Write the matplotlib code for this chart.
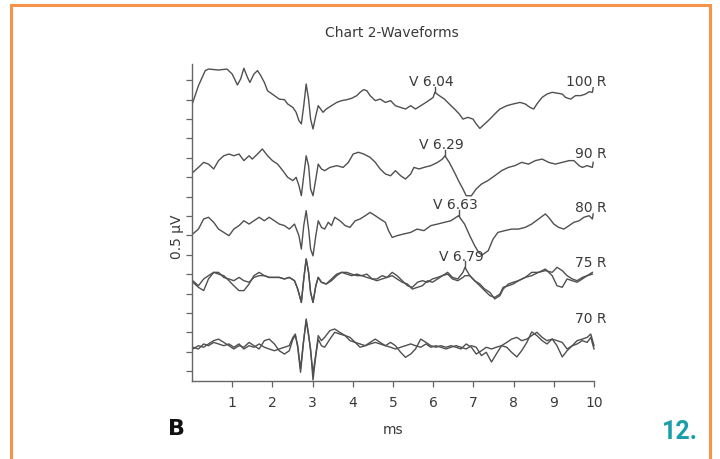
import matplotlib
matplotlib.use('Agg')
import matplotlib.pyplot as plt
from matplotlib.patches import Rectangle

# --- data (time in ms, amplitude in axis divisions) ---
t_100 = [0.02, 0.16, 0.33, 0.41, 0.66, 0.87, 1.00, 1.13, 1.21, 1.29,
         1.38, 1.44, 1.54, 1.63, 1.71, 1.80, 1.88, 2.05, 2.17, 2.30,
         2.38, 2.51, 2.59, 2.66, 2.72, 2.78, 2.84, 2.90, 2.95, 3.01,
         3.08, 3.14, 3.20, 3.26, 3.34, 3.47, 3.60, 3.72, 3.85, 3.97,
         4.10, 4.18, 4.27, 4.35, 4.43, 4.56, 4.68, 4.81, 4.94, 5.06,
         5.19, 5.31, 5.44, 5.56, 5.69, 5.82, 5.94, 6.00, 6.04, 6.15,
         6.28, 6.40, 6.53, 6.65, 6.74, 6.86, 6.99, 7.07, 7.16, 7.28,
         7.41, 7.53, 7.66, 7.83, 7.99, 8.16, 8.29, 8.41, 8.50, 8.58,
         8.71, 8.83, 8.96, 9.08, 9.21, 9.29, 9.42, 9.54, 9.67, 9.79,
         9.88, 9.96, 9.98]
v_100 = [14.36, 15.22, 16.0, 16.08, 16.03, 16.08, 15.82, 15.26, 15.57, 16.12,
         15.65, 15.39, 15.82, 16.0, 15.74, 15.39, 14.96, 14.71, 14.53, 14.5,
         14.28, 14.1, 13.85, 13.42, 13.25, 14.19, 15.31, 14.53, 13.5, 12.99,
         13.68, 14.19, 14.02, 13.85, 14.02, 14.19, 14.36, 14.45, 14.5, 14.57,
         14.71, 14.88, 15.02, 14.96, 14.71, 14.45, 14.53, 14.36, 14.45, 14.19,
         14.1, 14.02, 14.19, 14.02, 14.19, 14.36, 14.53, 14.62, 14.88, 14.71,
         14.53, 14.28, 14.02, 13.76, 13.5, 13.59, 13.5, 13.25, 13.02, 13.25,
         13.5, 13.76, 14.02, 14.19, 14.28, 14.36, 14.28, 14.1, 14.02, 14.28,
         14.62, 14.79, 14.88, 14.84, 14.79, 14.62, 14.53, 14.71, 14.71, 14.79,
         14.91, 14.88, 15.12]

t_90 = [0.02, 0.16, 0.29, 0.41, 0.54, 0.66, 0.79, 0.92, 1.04, 1.17,
        1.29, 1.42, 1.50, 1.63, 1.75, 1.88, 2.00, 2.13, 2.26, 2.38,
        2.51, 2.59, 2.66, 2.72, 2.78, 2.84, 2.90, 2.95, 3.01, 3.08,
        3.14, 3.22, 3.30, 3.43, 3.60, 3.76, 3.89, 4.01, 4.14, 4.27,
        4.43, 4.56, 4.68, 4.81, 4.94, 5.06, 5.19, 5.31, 5.44, 5.52,
        5.65, 5.77, 5.94, 6.11, 6.23, 6.29, 6.40, 6.53, 6.65, 6.74,
        6.82, 6.95, 7.07, 7.20, 7.36, 7.53, 7.70, 7.87, 8.03, 8.20,
        8.37, 8.54, 8.71, 8.87, 9.04, 9.21, 9.38, 9.50, 9.63, 9.71,
        9.83, 9.96, 9.98]
v_90 = [10.75, 11.01, 11.27, 11.18, 10.93, 11.36, 11.61, 11.7, 11.61, 11.7,
        11.36, 11.61, 11.44, 11.7, 11.96, 11.61, 11.36, 11.18, 10.84, 10.5,
        10.33, 10.5, 10.07, 9.55, 10.58, 11.61, 11.1, 9.9, 9.55, 10.41,
        11.18, 10.93, 10.84, 11.01, 11.1, 11.01, 11.27, 11.7, 11.79, 11.7,
        11.53, 11.27, 10.93, 10.67, 10.58, 10.84, 10.58, 10.41, 10.67, 11.01,
        10.93, 11.01, 11.1, 11.27, 11.44, 11.61, 11.27, 10.75, 10.24, 9.9,
        9.55, 9.55, 9.9, 10.15, 10.33, 10.58, 10.84, 11.01, 11.1, 11.27,
        11.18, 11.36, 11.44, 11.27, 11.18, 11.27, 11.36, 11.36, 11.1, 11.01,
        11.1, 11.01, 11.27]

t_80 = [0.02, 0.16, 0.29, 0.41, 0.54, 0.66, 0.79, 0.92, 1.04, 1.17,
        1.29, 1.42, 1.54, 1.67, 1.80, 1.92, 2.05, 2.17, 2.30, 2.42,
        2.55, 2.66, 2.72, 2.78, 2.84, 2.90, 2.95, 3.01, 3.08, 3.14,
        3.22, 3.30, 3.39, 3.47, 3.55, 3.68, 3.81, 3.93, 4.06, 4.18,
        4.31, 4.43, 4.56, 4.68, 4.81, 4.89, 4.98, 5.10, 5.27, 5.44,
        5.60, 5.77, 5.94, 6.11, 6.28, 6.44, 6.63, 6.78, 6.91, 7.03,
        7.14, 7.22, 7.37, 7.49, 7.61, 7.78, 7.95, 8.12, 8.29, 8.45,
        8.62, 8.79, 8.87, 9.00, 9.12, 9.25, 9.38, 9.50, 9.63, 9.75,
        9.88, 9.96, 9.98]
v_80 = [7.58, 7.83, 8.35, 8.44, 8.18, 7.83, 7.66, 7.49, 7.83, 8.01,
        8.26, 8.09, 8.26, 8.44, 8.26, 8.44, 8.26, 8.09, 8.01, 7.83,
        8.09, 7.49, 6.8, 8.01, 8.78, 7.83, 6.8, 6.45, 7.49, 8.26,
        7.92, 7.83, 8.18, 8.01, 8.44, 8.26, 8.01, 7.92, 8.26, 8.35,
        8.52, 8.69, 8.52, 8.35, 8.18, 7.75, 7.4, 7.49, 7.58, 7.66,
        7.83, 7.75, 8.01, 8.09, 8.18, 8.26, 8.52, 8.09, 7.49, 6.98,
        6.6, 6.5, 6.72, 7.32, 7.66, 7.75, 7.83, 7.83, 7.92, 8.09,
        8.35, 8.61, 8.44, 8.09, 7.92, 7.83, 8.01, 8.18, 8.26, 8.44,
        8.52, 8.35, 8.61]

t_75 = [0.02, 0.16, 0.29, 0.41, 0.54, 0.66, 0.79, 0.92, 1.04, 1.17,
        1.29, 1.42, 1.54, 1.67, 1.80, 1.92, 2.05, 2.17, 2.30, 2.42,
        2.55, 2.63, 2.72, 2.78, 2.84, 2.90, 2.95, 3.01, 3.08, 3.14,
        3.22, 3.34, 3.47, 3.60, 3.72, 3.85, 3.97, 4.10, 4.22, 4.35,
        4.48, 4.60, 4.73, 4.85, 4.98, 5.10, 5.23, 5.36, 5.48, 5.61,
        5.73, 5.86, 5.98, 6.11, 6.23, 6.36, 6.48, 6.61, 6.74, 6.79,
        6.91, 7.03, 7.16, 7.28, 7.41, 7.53, 7.66, 7.74, 7.87, 7.99,
        8.12, 8.29, 8.45, 8.62, 8.79, 8.96, 9.08, 9.21, 9.33, 9.46,
        9.58, 9.71, 9.83, 9.96]
v_75a = [5.09, 4.83, 4.66, 5.26, 5.6, 5.6, 5.34, 5.26, 5.17, 5.34,
         5.17, 5.09, 5.34, 5.43, 5.43, 5.34, 5.34, 5.34, 5.26, 5.34,
         5.17, 4.74, 4.05, 5.26, 6.29, 5.6, 4.57, 4.05, 4.91, 5.34,
         5.09, 5.0, 5.17, 5.43, 5.6, 5.51, 5.43, 5.51, 5.43, 5.51,
         5.26, 5.17, 5.26, 5.34, 5.6, 5.43, 5.17, 4.91, 4.83, 5.09,
         5.17, 5.09, 5.26, 5.34, 5.43, 5.6, 5.34, 5.26, 5.6, 5.86,
         5.43, 5.17, 4.91, 4.66, 4.4, 4.31, 4.48, 4.83, 4.91, 5.0,
         5.17, 5.34, 5.43, 5.6, 5.69, 5.6, 5.86, 5.69, 5.43, 5.26,
         5.17, 5.34, 5.43, 5.6]
v_75b = [5.17, 4.91, 5.26, 5.43, 5.6, 5.51, 5.43, 5.17, 4.91, 4.66,
         4.66, 5.0, 5.43, 5.6, 5.43, 5.34, 5.34, 5.34, 5.26, 5.34,
         5.17, 4.74, 4.05, 5.26, 6.29, 5.6, 4.57, 4.05, 4.91, 5.34,
         5.09, 5.0, 5.26, 5.51, 5.6, 5.6, 5.51, 5.43, 5.43, 5.34,
         5.26, 5.26, 5.43, 5.34, 5.43, 5.26, 5.09, 5.0, 4.74, 4.83,
         4.91, 5.17, 5.09, 5.26, 5.43, 5.51, 5.26, 5.17, 5.34, 5.43,
         5.43, 5.17, 5.0, 4.74, 4.57, 4.23, 4.4, 4.74, 5.0, 5.09,
         5.17, 5.34, 5.6, 5.6, 5.77, 5.43, 4.91, 4.83, 5.26, 5.17,
         5.09, 5.26, 5.43, 5.51]

t_70 = [0.02, 0.16, 0.29, 0.41, 0.54, 0.66, 0.79, 0.92, 1.04, 1.17,
        1.29, 1.42, 1.54, 1.67, 1.80, 1.92, 2.05, 2.17, 2.30, 2.42,
        2.51, 2.57, 2.63, 2.70, 2.77, 2.84, 2.90, 2.95, 3.01, 3.08,
        3.14, 3.22, 3.30, 3.43, 3.55, 3.68, 3.81, 3.93, 4.06, 4.18,
        4.31, 4.43, 4.56, 4.68, 4.81, 4.94, 5.06, 5.19, 5.31, 5.44,
        5.56, 5.69, 5.82, 5.94, 6.07, 6.19, 6.32, 6.44, 6.57, 6.69,
        6.82, 6.95, 7.07, 7.20, 7.32, 7.45, 7.57, 7.70, 7.83, 7.95,
        8.08, 8.20, 8.33, 8.45, 8.58, 8.71, 8.83, 8.96, 9.08, 9.21,
        9.33, 9.46, 9.58, 9.71, 9.83, 9.92, 10.0]
v_70a = [1.65, 1.82, 1.74, 1.91, 2.08, 2.16, 1.99, 1.82, 1.65, 1.82,
         1.74, 1.99, 1.82, 1.65, 2.08, 2.16, 1.91, 1.56, 1.39, 1.56,
         2.16, 2.34, 1.82, 0.62, 1.99, 3.11, 2.34, 1.65, 0.05, 1.31,
         2.16, 1.82, 1.74, 2.16, 2.51, 2.42, 2.34, 2.25, 1.99, 1.74,
         1.82, 1.99, 2.16, 1.99, 1.82, 1.99, 1.82, 1.48, 1.22, 1.39,
         1.65, 2.16, 1.99, 1.82, 1.74, 1.82, 1.74, 1.82, 1.74, 1.65,
         1.91, 1.74, 1.39, 1.56, 1.74, 1.65, 1.74, 1.82, 1.99, 2.16,
         2.25, 2.08, 2.16, 2.34, 2.51, 2.25, 2.08, 2.16, 2.08, 1.99,
         1.65, 1.82, 2.08, 2.16, 2.25, 2.42, 1.82]
v_70b = [1.74, 1.65, 1.91, 1.82, 1.99, 1.91, 1.82, 1.91, 1.74, 1.91,
         1.65, 1.82, 1.74, 1.91, 1.74, 1.65, 1.56, 1.65, 1.74, 1.82,
         2.25, 2.42, 1.74, 0.45, 1.91, 3.2, 2.42, 1.56, 0.4, 1.39,
         2.34, 2.08, 2.25, 2.6, 2.68, 2.5, 2.34, 2.08, 1.99, 1.91,
         1.82, 1.91, 1.99, 1.91, 1.82, 1.74, 1.65, 1.74, 1.82, 1.91,
         1.82, 1.74, 1.91, 1.74, 1.82, 1.74, 1.65, 1.74, 1.82, 1.74,
         1.65, 1.82, 1.74, 1.31, 1.48, 0.98, 1.39, 1.82, 1.74, 1.48,
         1.24, 1.56, 1.99, 2.53, 2.34, 2.08, 1.91, 2.16, 1.82, 1.24,
         1.56, 1.82, 1.91, 2.08, 1.99, 2.25, 1.65]

row_labels = ['100 R', '90 R', '80 R', '75 R', '70 R']
label_levels = [15.46, 11.75, 8.97, 6.13, 3.25]
peak_names = ['V 6.04', 'V 6.29', 'V 6.63', 'V 6.79']
peak_times = [6.04, 6.29, 6.63, 6.79]
peak_levels = [14.88, 11.61, 8.52, 5.86]

TRACE = '#505050'
TEXT = '#3a3a3a'

fig = plt.figure(figsize=(7.2, 4.6), dpi=100)
ax = fig.add_axes([192 / 720, 1 - 382 / 460, 402 / 720, 317 / 460])

traces = [(t_100, v_100), (t_90, v_90), (t_80, v_80),
          (t_75, v_75a), (t_75, v_75b), (t_70, v_70a), (t_70, v_70b)]
for t, v in traces:
    ax.plot(t, v, color=TRACE, lw=1.0, clip_on=False)

# latency markers: short tick from the peak up to the decimal point
for name, pt, pv in zip(peak_names, peak_times, peak_levels):
    ax.plot([pt, pt], [pv, pv + 0.3], color=TRACE, lw=1.0)
    ax.text(pt - 0.08, pv + 0.22, name, ha='center', va='bottom',
            fontsize=10, color=TEXT)

for lab, lv in zip(row_labels, label_levels):
    ax.text(10.32, lv, lab, ha='right', va='center', fontsize=10,
            color=TEXT, clip_on=False)

ax.set_xlim(0, 10)
ax.set_ylim(0, 16.34)
ax.set_xticks(range(1, 11))
ax.set_yticks([k + 0.5 for k in range(16)])
ax.set_yticklabels([])
ax.tick_params(axis='x', direction='out', length=4, width=0.9,
               colors='#666666', labelcolor=TEXT, labelsize=10, pad=6)
ax.tick_params(axis='y', direction='out', length=4, width=0.9,
               colors='#666666')
for side in ['top', 'right']:
    ax.spines[side].set_visible(False)
for side in ['left', 'bottom']:
    ax.spines[side].set_color('#666666')
    ax.spines[side].set_linewidth(1.0)

fig.text(392 / 720, 1 - 33 / 460, 'Chart 2-Waveforms', ha='center',
         va='center', fontsize=10, color=TEXT)
fig.text(393 / 720, 1 - 430 / 460, 'ms', ha='center', va='center',
         fontsize=10, color=TEXT)
fig.text(177 / 720, 1 - 237 / 460, '0.5 µV', ha='center', va='center',
         rotation=90, fontsize=10, color=TEXT)
fig.text(177 / 720, 1 - 429 / 460, 'B', ha='center', va='center',
         fontsize=16, fontweight='bold', color='#111111')
fig.text(680 / 720, 1 - 432 / 460, '12.', ha='center', va='center',
         fontsize=18, fontweight='bold', family='Roboto', color='#1a9eab')

fig.patches.append(Rectangle((11 / 720, -0.1), 699 / 720, 1.1 - 6 / 460,
                             transform=fig.transFigure, fill=False,
                             edgecolor='#f7944b', linewidth=2.2))

fig.savefig('out.png', dpi=100)
